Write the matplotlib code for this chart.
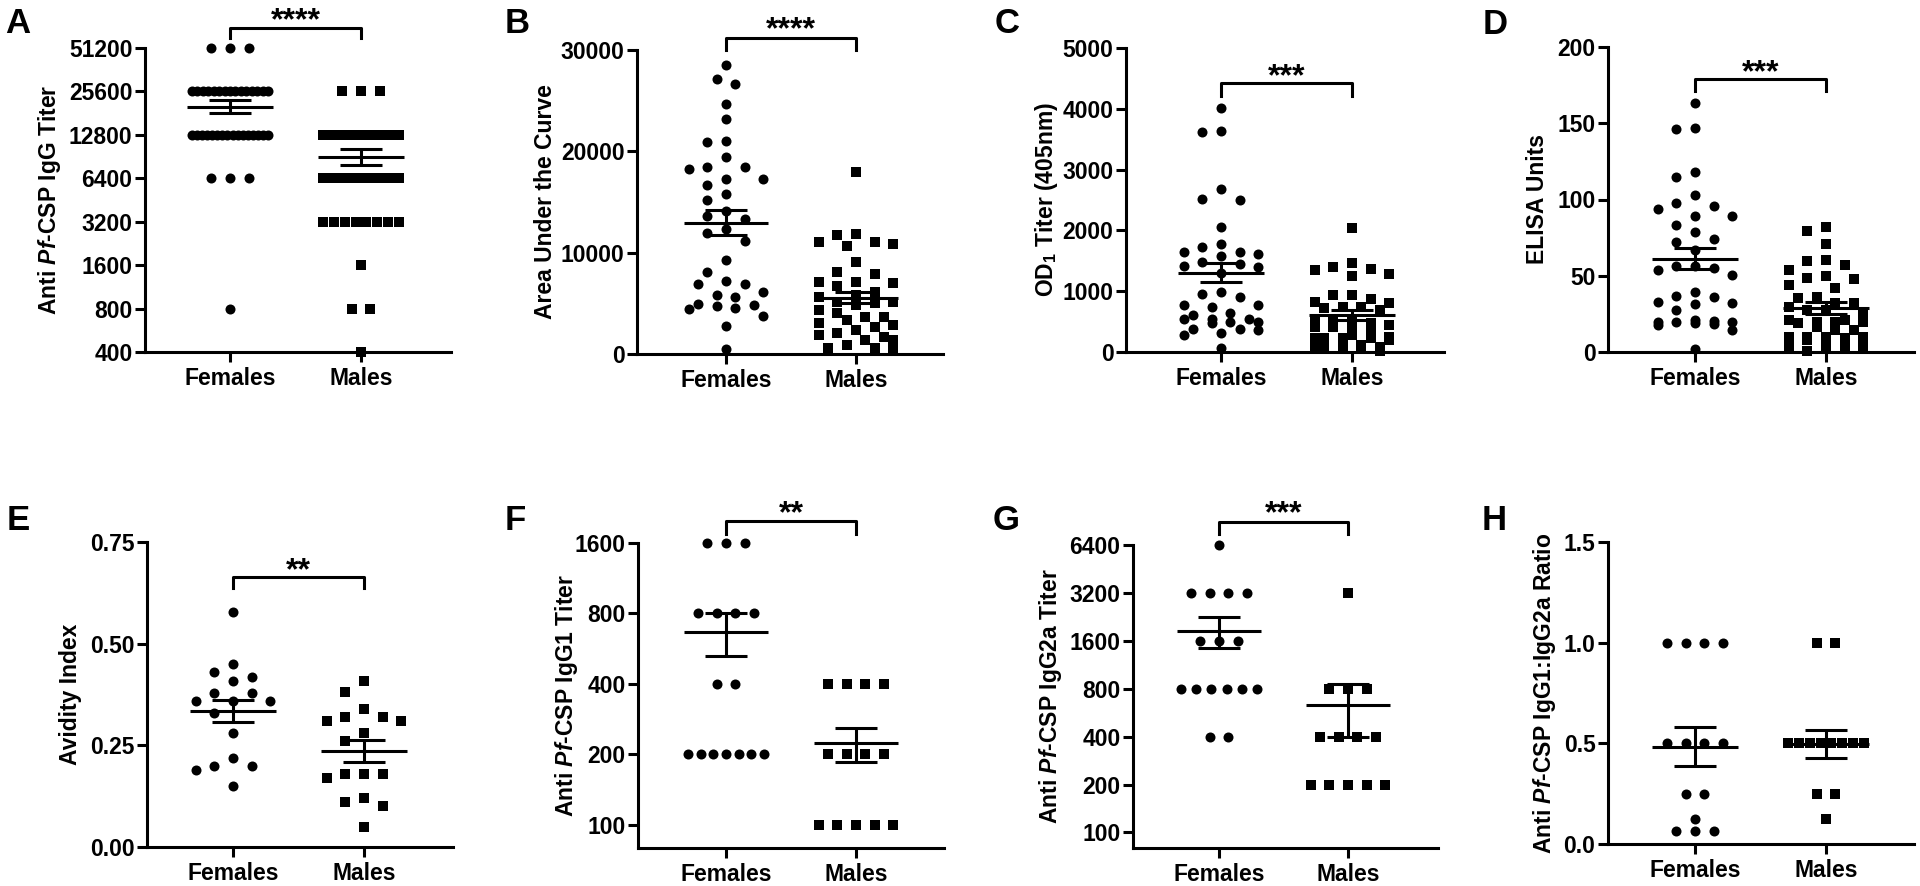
import numpy as np
import matplotlib
matplotlib.use('Agg')
import matplotlib.pyplot as plt
import matplotlib.transforms as mtransforms
from matplotlib.ticker import NullLocator

plt.rcParams['font.family'] = ['Liberation Sans', 'DejaVu Sans']
plt.rcParams['font.weight'] = 'bold'
plt.rcParams['mathtext.fontset'] = 'custom'
plt.rcParams['mathtext.rm'] = 'Liberation Sans:bold'
plt.rcParams['mathtext.it'] = 'Liberation Sans:italic:bold'
plt.rcParams['mathtext.bf'] = 'Liberation Sans:bold'

groups = ['Females', 'Males']

# ---- data ----
A_female = [51200, 51200, 51200,
            25600, 25600, 25600, 25600, 25600, 25600, 25600, 25600, 25600, 25600, 25600, 25600, 25600, 25600, 25600,
            12800, 12800, 12800, 12800, 12800, 12800, 12800, 12800, 12800, 12800, 12800, 12800, 12800, 12800, 12800, 12800,
            6400, 6400, 6400, 800]
A_male = [25600, 25600, 25600,
          12800, 12800, 12800, 12800, 12800, 12800, 12800, 12800, 12800, 12800, 12800, 12800, 12800, 12800, 12800,
          6400, 6400, 6400, 6400, 6400, 6400, 6400, 6400, 6400, 6400,
          3200, 3200, 3200, 3200, 3200, 3200, 3200, 3200, 1600, 800, 800, 400]
B_female = [28520, 27140, 26640, 24640, 23160, 20950, 21020, 19470, 18220, 18480, 18420, 16680, 17270,
            17240, 15760, 15200, 14140, 13620, 13300, 12300, 11900, 11180, 9280, 8120, 6870, 6870, 7200,
            6080, 5590, 5820, 4890, 4740, 4500, 4400, 4840, 3780, 2800, 460]
B_male = [17930, 11740, 10660, 11020, 11810, 10820, 11020, 9050, 7890, 7070, 6080, 6680, 8120, 7140, 6970,
          5100, 3680, 2040, 560, 4840, 3360, 2370, 1380, 5820, 5000, 3680, 2700, 1710, 560, 5660, 4010,
          2860, 1880, 890, 5170, 4340, 3030, 1380, 400]
C_female = [4018, 3624, 3640, 2681, 2500, 2516, 2061, 1771, 1640, 1650, 1732, 1606, 1579, 1447, 1475, 1403,
            1414, 1294, 982, 954, 899, 745, 773, 773, 609, 647, 537, 499, 537, 537, 499, 471, 307, 373, 362,
            373, 280, 60]
C_male = [2045, 1404, 1250, 1359, 1469, 1283, 1349, 938, 938, 827, 866, 800, 691, 718, 745, 745, 526, 537,
          537, 416, 334, 416, 444, 471, 444, 225, 197, 225, 280, 252, 225, 225, 87, 87, 87, 87, 10, 60, 120]
D_female = [163, 146, 147, 114.5, 118, 103, 98, 94, 96, 89, 89, 83, 79, 74, 72, 67, 56.6, 56.6, 53.8, 54.9,
            50.5, 31.5, 36.3, 39.1, 33, 36.7, 31.9, 27.5, 18.1, 20.3, 19.9, 19.9, 21, 19.5, 17.7, 19.2, 14.4, 1.8]
D_male = [79.3, 81.8, 70.8, 53.8, 59.7, 60.3, 57, 43.9, 48.3, 49.8, 47.6, 41.7, 35.9, 35.2, 31.9, 31.9, 29.7,
          27.5, 24.9, 27.5, 19.9, 19.9, 21, 21, 18.8, 19.5, 14.4, 16.6, 14.4, 9, 7.9, 9, 9.6, 9.6, 9.6, 10,
          2.4, 3.5, 3.5, 0.5, 2.4]
E_female = [0.579, 0.449, 0.43, 0.419, 0.409, 0.379, 0.379, 0.359, 0.359, 0.359, 0.329, 0.28, 0.218, 0.199,
            0.199, 0.189, 0.15]
E_male = [0.409, 0.38, 0.339, 0.309, 0.319, 0.309, 0.319, 0.28, 0.26, 0.17, 0.18, 0.18, 0.18, 0.10, 0.12,
          0.11, 0.05]
F_female = [1600, 1600, 1600, 800, 800, 800, 800, 400, 400, 200, 200, 200, 200, 200, 200, 200]
F_male = [400, 400, 400, 400, 200, 200, 200, 200, 100, 100, 100, 100, 100]
G_female = [6400, 3200, 3200, 3200, 3200, 1600, 1600, 1600, 800, 800, 800, 800, 800, 800, 400, 400]
G_male = [3200, 800, 800, 800, 400, 400, 400, 400, 200, 200, 200, 200, 200]
H_female = [1.0, 1.0, 1.0, 1.0, 0.5, 0.5, 0.5, 0.5, 0.25, 0.25, 0.125, 0.0625, 0.0625, 0.0625]
H_male = [1.0, 1.0, 0.5, 0.5, 0.5, 0.5, 0.5, 0.5, 0.5, 0.5, 0.25, 0.25, 0.125]

# mean and SEM as drawn (female, male)
A_mean, A_sem = [20100, 9050], [2100, 1100]
B_mean, B_sem = [12960, 5560], [1240, 575]
C_mean, C_sem = [1305, 608], [160, 82]
D_mean, D_sem = [61, 28.6], [6.9, 3.9]
E_mean, E_sem = [0.335, 0.235], [0.027, 0.027]
F_mean, F_sem = [665, 223], [140, 37]
G_mean, G_sem = [1850, 630], [415, 230]
H_mean, H_sem = [0.484, 0.496], [0.099, 0.069]

W, H = 1920, 886
fig = plt.figure(figsize=(W / 100, H / 100), dpi=100)

pf = r'Anti $\mathit{Pf}$-CSP '
panels = [
    dict(letter='A', lx=5, ly=33, rect=(145, 48, 451, 352), tx=(230, 361), label=pf + 'IgG Titer', label_x=49,
         f=A_female, m=A_male, mean=A_mean, sem=A_sem, log=True, ylim=(400, 51200),
         ticks=[400, 800, 1600, 3200, 6400, 12800, 25600, 51200], fmt='{:d}', discrete=True,
         sig='****', br=(1.066, 1.033, 1.088)),
    dict(letter='B', lx=505, ly=33, rect=(637, 50, 943, 354), tx=(726, 856), label='Area Under the Curve', label_x=545,
         f=B_female, m=B_male, mean=B_mean, sem=B_sem, log=False, ylim=(0, 30000),
         ticks=[0, 10000, 20000, 30000], fmt='{:d}', discrete=False, sig='****', br=(1.04, 1.0, 1.064)),
    dict(letter='C', lx=995, ly=33, rect=(1126, 48, 1444, 352), tx=(1221, 1352), label=r'OD$_1$ Titer (405nm)',
         label_x=1047, f=C_female, m=C_male, mean=C_mean, sem=C_sem, log=False, ylim=(0, 5000),
         ticks=[0, 1000, 2000, 3000, 4000, 5000], fmt='{:d}', discrete=False, sig='***', br=(0.885, 0.842, 0.905)),
    dict(letter='D', lx=1483, ly=34, rect=(1608, 47, 1914, 352), tx=(1695, 1826), label='ELISA Units', label_x=1537,
         f=D_female, m=D_male, mean=D_mean, sem=D_sem, log=False, ylim=(0, 200),
         ticks=[0, 50, 100, 150, 200], fmt='{:d}', discrete=False, sig='***', br=(0.895, 0.856, 0.913)),
    dict(letter='E', lx=7, ly=530, rect=(147, 542, 453, 847), tx=(233, 364), label='Avidity Index', label_x=70,
         f=E_female, m=E_male, mean=E_mean, sem=E_sem, log=False, ylim=(0, 0.75),
         ticks=[0, 0.25, 0.5, 0.75], fmt='{:.2f}', discrete=False, sig='**', br=(0.885, 0.849, 0.903)),
    dict(letter='F', lx=505, ly=530, rect=(638, 543, 944, 848), tx=(726, 856), label=pf + 'IgG1 Titer', label_x=567,
         f=F_female, m=F_male, mean=F_mean, sem=F_sem, log=True, ylim=(79.4, 1600),
         ticks=[100, 200, 400, 800, 1600], fmt='{:d}', discrete=True, sig='**', br=(1.072, 1.03, 1.093)),
    dict(letter='G', lx=993, ly=530, rect=(1133, 545, 1438, 848), tx=(1219, 1348), label=pf + 'IgG2a Titer',
         label_x=1051, f=G_female, m=G_male, mean=G_mean, sem=G_sem, log=True, ylim=(79.8, 6400),
         ticks=[100, 200, 400, 800, 1600, 3200, 6400], fmt='{:d}', discrete=True, sig='***', br=(1.076, 1.036, 1.1)),
    dict(letter='H', lx=1482, ly=530, rect=(1608, 542, 1914, 844), tx=(1695, 1826), label=pf + 'IgG1:IgG2a Ratio',
         label_x=1544, f=H_female, m=H_male, mean=H_mean, sem=H_sem, log=False, ylim=(0, 1.5),
         ticks=[0, 0.5, 1.0, 1.5], fmt='{:.1f}', discrete=True, sig=None, br=None),
]

FS = 16.5
LW = 2.2


def spread(ax, xc, values, discrete):
    # place points side by side like a column scatter (offsets worked out in pixels)
    values = np.asarray(values, dtype=float)
    h = 9.3
    limit = 38.0
    ys = ax.transData.transform(np.column_stack([np.full(len(values), xc), values]))[:, 1]
    offs = np.zeros(len(values))
    if discrete:
        for v in np.unique(values):
            idx = np.where(values == v)[0]
            n = len(idx)
            step = 2 * h if n < 2 else min(2 * h, 2 * limit / (n - 1))
            offs[idx] = (np.arange(n) - (n - 1) / 2) * step
    else:
        kmax = int(limit // h)
        cands = [0] + [s * k for k in range(1, kmax + 1) for s in (-1, 1)]
        placed = []
        for i in np.argsort(-ys):
            best, best_x, best_cost = None, 0, None
            for k in cands:
                x = k * h
                cost = 0
                for px, py in placed:
                    e = ((x - px) / 18.0) ** 2 + ((ys[i] - py) / 14.5) ** 2
                    if e < 1:
                        cost += 1 - e
                if cost == 0:
                    best = x
                    break
                if best_cost is None or cost < best_cost:
                    best_cost, best_x = cost, x
            if best is None:
                best = best_x
            offs[i] = best
            placed.append((best, ys[i]))
    unit = ax.transData.transform((1, 0))[0] - ax.transData.transform((0, 0))[0]
    return xc + offs / unit


for p in panels:
    l, t, r, b = p['rect']
    ax = fig.add_axes([l / W, 1 - b / H, (r - l) / W, (b - t) / H])
    unit = p['tx'][1] - p['tx'][0]
    ax.set_xlim((l - p['tx'][0]) / unit, (r - p['tx'][0]) / unit)
    if p['log']:
        ax.set_yscale('log', base=2)
    ax.set_ylim(*p['ylim'])
    ax.set_yticks(p['ticks'])
    ax.set_yticklabels([p['fmt'].format(v) for v in p['ticks']])
    ax.yaxis.set_minor_locator(NullLocator())
    ax.set_xticks([0, 1])
    ax.set_xticklabels(groups)
    for s in ['top', 'right']:
        ax.spines[s].set_visible(False)
    for s in ['left', 'bottom']:
        ax.spines[s].set_linewidth(LW)
    ax.tick_params(axis='y', width=LW, length=7, labelsize=FS, pad=2)
    ax.tick_params(axis='x', width=LW, length=7, labelsize=FS, pad=4)
    ax.set_ylabel(p['label'], fontsize=FS, fontweight='bold', va='center')
    ax.yaxis.set_label_coords((p['label_x'] - l) / (r - l), 0.5)

    for xc, vals, mk, sz in [(0, p['f'], 'o', 52), (1, p['m'], 's', 44)]:
        xs = spread(ax, xc, vals, p['discrete'])
        ax.scatter(xs, vals, marker=mk, s=sz, color='black', linewidths=0, zorder=2, clip_on=False)

    for xc in [0, 1]:
        mu, se = p['mean'][xc], p['sem'][xc]
        ax.hlines(mu, xc - 0.325, xc + 0.325, color='black', lw=LW, zorder=3)
        ax.vlines(xc, mu - se, mu + se, color='black', lw=LW, zorder=3)
        ax.hlines([mu - se, mu + se], xc - 0.16, xc + 0.16, color='black', lw=LW, zorder=3)

    if p['sig']:
        top, leg, star = p['br']
        trans = mtransforms.blended_transform_factory(ax.transData, ax.transAxes)
        ax.plot([0, 0, 1, 1], [leg, top, top, leg], color='black', lw=LW, transform=trans, clip_on=False)
        ax.text(0.5, star, p['sig'], transform=trans, ha='center', va='center', fontsize=23, fontweight='bold')

    fig.text(p['lx'] / W, 1 - p['ly'] / H, p['letter'], fontsize=25, fontweight='bold', ha='left', va='baseline')

fig.savefig('out.png', dpi=100)
